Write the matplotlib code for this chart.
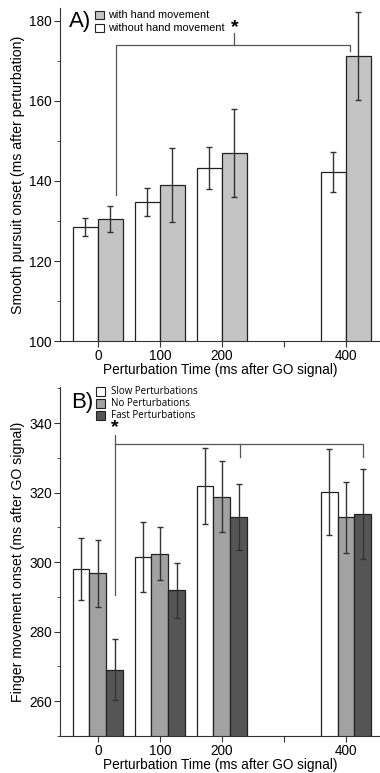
import matplotlib.pyplot as plt
import numpy as np
from matplotlib.patches import Rectangle
from matplotlib.ticker import MultipleLocator

plt.rcParams['font.family'] = ['Liberation Sans', 'DejaVu Sans']

# data
times = [0, 100, 200, 400]
tick_labels = ['0', '100', '200', '', '400']

# panel A: smooth pursuit onset
a_without = [128.5, 134.8, 143.2, 142.3]
a_without_err = [2.3, 3.5, 5.3, 5.0]
a_with = [130.5, 139.0, 147.0, 171.3]
a_with_err = [3.2, 9.2, 11.0, 11.0]

# panel B: finger movement onset
b_slow = [298.1, 301.5, 321.9, 320.1]
b_slow_err = [8.9, 10.0, 11.0, 12.4]
b_none = [296.8, 302.4, 318.8, 312.9]
b_none_err = [9.6, 7.6, 10.2, 10.3]
b_fast = [269.1, 291.9, 313.0, 313.8]
b_fast_err = [8.7, 7.9, 9.6, 13.0]

fig = plt.figure(figsize=(3.8, 7.73), dpi=100)
axA = fig.add_axes([60/380, 1-341/773, 320/380, 333/773])
axB = fig.add_axes([60/380, 1-736/773, 320/380, 349/773])

x = np.array(times)
ekw = dict(ecolor='#333333', elinewidth=1.0, capsize=2.2, capthick=1.0)

# --- A ---
axA.bar(x - 20, a_without, width=40, color='white', edgecolor='#222222',
        linewidth=0.9, yerr=a_without_err, error_kw=ekw)
axA.bar(x + 20, a_with, width=40, color='#c4c4c4', edgecolor='#222222',
        linewidth=0.9, yerr=a_with_err, error_kw=ekw)
axA.set_ylim(100, 183.25)
axA.yaxis.set_major_locator(MultipleLocator(20))
axA.yaxis.set_minor_locator(MultipleLocator(10))
axA.set_ylabel('Smooth pursuit onset (ms after perturbation)', fontsize=10.2, labelpad=3)

# significance bracket A
axA.plot([30, 30, 407, 407], [136.5, 174, 174, 172.5], color='#555555', lw=0.9)
axA.plot([219, 219], [174, 177], color='#555555', lw=0.9)
axA.text(221, 178.3, '*', ha='center', va='center', fontsize=14, fontweight='bold')

# legend A
fig.text(69/380, 1-21/773, 'A)', fontsize=16, va='center', ha='left')
for yy, col, lab in [(15, '#c4c4c4', 'with hand movement'), (28, 'white', 'without hand movement')]:
    fig.patches.append(Rectangle((95/380, 1-(yy+3.5)/773), 8.5/380, 7/773, transform=fig.transFigure,
                                 facecolor=col, edgecolor='#222222', linewidth=0.8))
    fig.text(108/380, 1-yy/773, lab, fontsize=7.8, va='center', ha='left')

# --- B ---
axB.bar(x - 27, b_slow, width=27, color='white', edgecolor='#222222',
        linewidth=0.9, yerr=b_slow_err, error_kw=ekw)
axB.bar(x, b_none, width=27, color='#a2a2a2', edgecolor='#222222',
        linewidth=0.9, yerr=b_none_err, error_kw=ekw)
axB.bar(x + 27, b_fast, width=27, color='#555555', edgecolor='#222222',
        linewidth=0.9, yerr=b_fast_err, error_kw=ekw)
axB.set_ylim(250, 350.4)
axB.yaxis.set_major_locator(MultipleLocator(20))
axB.yaxis.set_minor_locator(MultipleLocator(10))
axB.set_ylabel('Finger movement onset (ms after GO signal)', fontsize=10.2, labelpad=3)

# significance bracket B
axB.plot([28, 28], [290.7, 336.5], color='#555555', lw=0.9)
axB.plot([28, 428, 428], [334, 334, 330.2], color='#555555', lw=0.9)
axB.plot([229, 229], [334, 330.2], color='#555555', lw=0.9)
axB.text(28, 338.6, '*', ha='center', va='center', fontsize=14, fontweight='bold')

# legend B
fig.text(71/380, 1-402/773, 'B)', fontsize=16, va='center', ha='left')
for yy, col, lab in [(391, 'white', 'Slow Perturbations'), (403.5, '#a2a2a2', 'No Perturbations'),
                     (415.5, '#555555', 'Fast Perturbations')]:
    fig.patches.append(Rectangle((96/380, 1-(yy+4.5)/773), 8.5/380, 9/773, transform=fig.transFigure,
                                 facecolor=col, edgecolor='#222222', linewidth=0.8))
    fig.text(111/380, 1-yy/773, lab, fontsize=7, va='center', ha='left', family=['Open Sans', 'DejaVu Sans'])

for ax in (axA, axB):
    ax.set_xlim(-61, 455)
    ax.set_xticks([0, 100, 200, 300, 400])
    ax.set_xticklabels(tick_labels)
    ax.set_xlabel('Perturbation Time (ms after GO signal)', fontsize=9.8, labelpad=0)
    ax.spines['top'].set_visible(False)
    ax.spines['right'].set_visible(False)
    ax.spines['left'].set_color('#333333')
    ax.spines['bottom'].set_color('#333333')
    ax.tick_params(axis='both', which='major', direction='out', length=4, labelsize=9.8,
                   color='#333333', pad=2)
    ax.tick_params(axis='y', which='minor', direction='out', length=2.5, color='#333333')

fig.savefig('out.png', dpi=100)
